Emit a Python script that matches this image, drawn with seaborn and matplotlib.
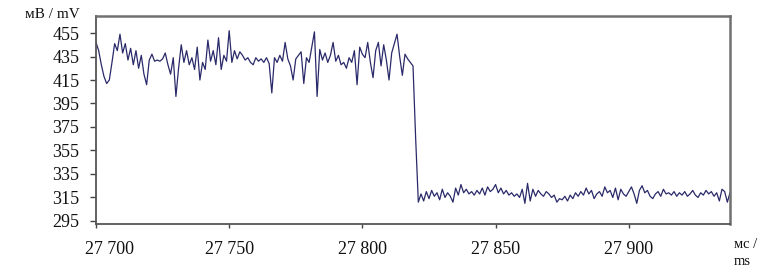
import numpy as np
import pandas as pd
import matplotlib
matplotlib.use("Agg")
import matplotlib.pyplot as plt
import matplotlib.transforms as mtransforms
import seaborn as sns

# ---- data (1 ms sampling starting at 27 700 ms) ----
t_start = 27700
high_values = [
    447, 440, 428, 418, 412, 415, 430, 446, 440, 454,
    438, 446, 432, 442, 428, 440, 425, 436, 420, 411,
    432, 437, 431, 432, 431, 433, 438, 428, 420, 434,
    401, 425, 445, 430, 440, 428, 434, 424, 443, 415,
    430, 424, 449, 431, 440, 428, 451, 424, 436, 431,
    457, 430, 440, 433, 439, 436, 432, 434, 430, 428,
    434, 431, 433, 430, 434, 429, 404, 434, 430, 436,
    431, 447, 433, 427, 415, 433, 436, 439, 412, 434,
    430, 443, 456, 401, 441, 432, 438, 430, 436, 447,
    431, 436, 428, 430, 425, 434, 430, 440, 411, 443,
    437, 434, 447, 430, 417, 440, 447, 427, 445, 432,
    415, 438, 446, 454, 435, 419, 437, 433, 430, 427,
]
drop_values = [365, 311]
low_values = [
    318, 312, 320, 314, 321, 316, 319, 313, 322, 315,
    319, 316, 311, 323, 317, 326, 319, 322, 318, 320,
    317, 321, 318, 323, 317, 324, 320, 322, 326, 319,
    323, 318, 321, 317, 319, 316, 318, 315, 322, 310,
    327, 312, 322, 316, 321, 318, 316, 320, 318, 315,
    317, 311, 314, 313, 316, 312, 317, 314, 319, 316,
    320, 317, 323, 318, 321, 314, 318, 320, 316, 324,
    319, 321, 315, 323, 313, 322, 318, 316, 320, 324,
    318, 310, 321, 325, 319, 321, 316, 314, 318, 320,
    316, 322, 318, 319, 317, 320, 316, 319, 317, 320,
    316, 318, 321, 317, 315, 319, 317, 321, 318, 320,
    316, 319, 312, 322, 320, 311, 319,
]
values_mv = high_values + drop_values + low_values
times_ms = np.arange(t_start, t_start + len(values_mv))

x_ticks = [27700, 27750, 27800, 27850, 27900]
x_tick_labels = ["27 700", "27 750", "27 800", "27 850", "27 900"]
y_ticks = [295, 315, 335, 355, 375, 395, 415, 435, 455]
y_label = "мВ / mV"
x_label = "мс /\nms"

df = pd.DataFrame({"t": times_ms, "v": values_mv})

# ---- style ----
sns.set_theme(style="white")
plt.rcParams["font.family"] = ["Liberation Serif", "DejaVu Serif"]

fig = plt.figure(figsize=(7.6, 2.75), dpi=100)
ax = fig.add_axes([96 / 760, 1 - 224 / 275, (730 - 96) / 760, (224 - 16) / 275])

sns.lineplot(data=df, x="t", y="v", ax=ax, color="#2a2a6a", linewidth=0.9,
             estimator=None, legend=False)

ax.set_xlim(27700, 27938)
ax.set_ylim(292.4, 469.5)
ax.set_xticks(x_ticks)
ax.set_xticklabels(x_tick_labels)
ax.set_yticks(y_ticks)
ax.set_yticklabels([str(v) for v in y_ticks])
ax.set_xlabel("")
ax.set_ylabel("")

ax.tick_params(axis="y", which="both", left=True, length=4, width=1,
               color="#444444", labelsize=13, pad=8, labelcolor="#111111")
ax.tick_params(axis="x", which="both", bottom=True, length=3, width=1,
               color="#444444", labelsize=13, pad=9, labelcolor="#111111")

for side in ["left", "bottom"]:
    ax.spines[side].set_color("#555555")
    ax.spines[side].set_linewidth(1.3)
for side in ["top", "right"]:
    ax.spines[side].set_color("#707070")
    ax.spines[side].set_linewidth(1.8)

# first x tick label sits a little to the right in the reference
offset = mtransforms.ScaledTranslation(13 / 100, 0, fig.dpi_scale_trans)
first = ax.get_xticklabels()[0]
first.set_transform(first.get_transform() + offset)

fig.text(80 / 760, 1 - 15 / 275, y_label, ha="right", va="center",
         fontsize=11, color="#111111")
fig.text(757 / 760, 1 - 238 / 275, x_label, ha="right", va="top",
         fontsize=10.5, color="#111111", linespacing=1.4,
         multialignment="left")

fig.savefig("out.png", dpi=100, facecolor="white")
